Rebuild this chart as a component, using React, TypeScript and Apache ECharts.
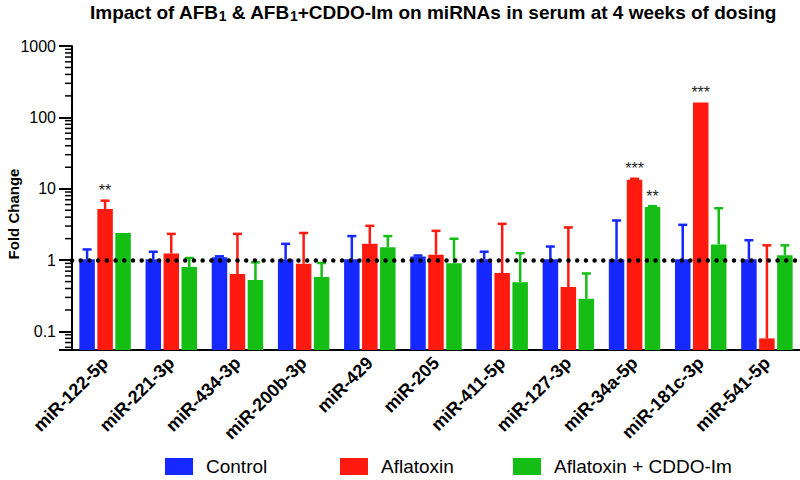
import React, { useEffect, useRef } from 'react';
import * as echarts from 'echarts';

const categories = [
  'miR-122-5p', 'miR-221-3p', 'miR-434-3p', 'miR-200b-3p', 'miR-429', 'miR-205',
  'miR-411-5p', 'miR-127-3p', 'miR-34a-5p', 'miR-181c-3p', 'miR-541-5p',
];
const seriesNames = ['Control', 'Aflatoxin', 'Aflatoxin + CDDO-Im'];

// mean fold change and upper end of the error bar (null = no visible bar)
const controlMean = [1.03, 1.03, 1.1, 1.03, 1.03, 1.12, 1.03, 1.03, 1.03, 1.03, 1.03];
const controlErr = [1.41, 1.31, 1.13, 1.69, 2.17, 1.16, 1.31, 1.55, 3.59, 3.12, 1.9];
const aflatoxinMean = [5.2, 1.24, 0.64, 0.89, 1.69, 1.19, 0.66, 0.42, 13.4, 162, 0.08];
const aflatoxinErr = [6.8, 2.33, 2.33, 2.4, 3.02, 2.57, 3.22, 2.87, 13.8, null, 1.61];
const cddoMean = [2.4, 0.8, 0.525, 0.58, 1.52, 0.9, 0.49, 0.287, 5.56, 1.66, 1.17];
const cddoErr = [null, 1.07, 0.93, 0.91, 2.17, 1.99, 1.25, 0.65, 5.7, 5.33, 1.61];

const controlSig = ['', '', '', '', '', '', '', '', '', '', ''];
const aflatoxinSig = ['**', '', '', '', '', '', '', '', '***', '***', ''];
const cddoSig = ['', '', '', '', '', '', '', '', '**', '', ''];

const yMin = 0.055;
const yMax = 1000;
const referenceLine = 1;
const yMinorTicks = [
  0.06, 0.07, 0.08, 0.09,
  0.2, 0.3, 0.4, 0.5, 0.6, 0.7, 0.8, 0.9,
  2, 3, 4, 5, 6, 7, 8, 9,
  20, 30, 40, 50, 60, 70, 80, 90,
  200, 300, 400, 500, 600, 700, 800, 900,
];

const colors = ['#1428ff', '#ff1a0f', '#14be14'];
const FONT = '"Liberation Sans", Arial, sans-serif';

const means = [controlMean, aflatoxinMean, cddoMean];
const errs = [controlErr, aflatoxinErr, cddoErr];
const sigs = [controlSig, aflatoxinSig, cddoSig];

const BAR_W = 15.5;
const BAR_STEP = 18;

export default function App() {
  const ref = useRef<HTMLDivElement>(null);

  useEffect(() => {
    if (!ref.current) return;
    const chart = echarts.init(ref.current, undefined, { renderer: 'svg' });

    const barSeries = seriesNames.map((name, s) => ({
      type: 'bar',
      name,
      data: means[s],
      barWidth: BAR_W,
      barGap: '16%',
      itemStyle: { color: colors[s] },
      z: 2,
    }));

    const errSeries = seriesNames.map((name, s) => ({
      type: 'custom',
      name: name + ' error',
      silent: true,
      clip: false,
      z: 4,
      data: categories.map((c, i) => [i, means[s][i]]),
      renderItem: (params: any, api: any) => {
        const i = params.dataIndex;
        const base = api.coord([i, means[s][i]]);
        const x = base[0] + (s - 1) * BAR_STEP;
        const children: any[] = [];
        let topY = base[1];
        const e = errs[s][i];
        if (e != null) {
          const t = api.coord([i, e]);
          topY = t[1];
          children.push({
            type: 'line',
            shape: { x1: x, y1: base[1], x2: x, y2: t[1] },
            style: { stroke: colors[s], lineWidth: 2.5 },
          });
          children.push({
            type: 'line',
            shape: { x1: x - 4.5, y1: t[1], x2: x + 4.5, y2: t[1] },
            style: { stroke: colors[s], lineWidth: 2.5 },
          });
        }
        if (sigs[s][i]) {
          children.push({
            type: 'text',
            x,
            y: topY - 10,
            style: {
              text: sigs[s][i],
              fill: '#222',
              font: '16px ' + FONT,
              align: 'center',
              verticalAlign: 'middle',
            },
          });
        }
        return { type: 'group', children };
      },
    }));

    const minorTickSeries = {
      type: 'custom',
      name: 'minor ticks',
      silent: true,
      clip: false,
      z: 5,
      data: yMinorTicks.map((v) => [0, v]),
      renderItem: (params: any, api: any) => {
        const p = api.coord([0, api.value(1)]);
        const bw = api.size([1, 0], [0, 1])[0];
        const x0 = p[0] - bw / 2;
        return {
          type: 'line',
          shape: { x1: x0 - 7, y1: p[1], x2: x0, y2: p[1] },
          style: { stroke: '#000', lineWidth: 1.5 },
        };
      },
    };

    const lineSeries = {
      type: 'custom',
      name: 'reference',
      silent: true,
      z: 6,
      data: [],
      renderItem: () => ({ type: 'group', children: [] }),
      markLine: {
        silent: true,
        symbol: 'none',
        z: 6,
        label: { show: false },
        lineStyle: { color: '#000', width: 4.5, type: [0.01, 8.7], cap: 'round' },
        data: [{ yAxis: referenceLine }],
      },
    };

    const legendLefts = [165, 340, 513];
    const legends = seriesNames.map((name, s) => ({
      data: [name],
      left: legendLefts[s],
      top: 457,
      padding: 0,
      itemWidth: 28,
      itemHeight: 17,
      icon: 'rect',
      selectedMode: false,
      textStyle: { fontSize: 19, color: '#000', fontFamily: FONT, padding: [0, 0, 0, 8] },
    }));

    chart.setOption({
      animation: false,
      backgroundColor: '#fff',
      color: colors,
      title: {
        left: 90,
        top: 1,
        padding: 0,
        text: '{b|Impact of AFB}{s|1}{b| & AFB}{s|1}{b|+CDDO-Im on miRNAs in serum at 4 weeks of dosing}',
        textStyle: {
          rich: {
            b: { fontSize: 19, fontWeight: 'bold', fontFamily: FONT, color: '#000', lineHeight: 22 },
            s: { fontSize: 14, fontWeight: 'bold', fontFamily: FONT, color: '#000', lineHeight: 8, verticalAlign: 'bottom' },
          },
        },
      },
      legend: legends,
      grid: { left: 72, right: 0, top: 46, bottom: 130, containLabel: false },
      xAxis: {
        type: 'category',
        data: categories,
        axisLine: { lineStyle: { color: '#000', width: 2 } },
        axisTick: { alignWithLabel: true, length: 7, lineStyle: { color: '#000', width: 2 } },
        axisLabel: {
          interval: 0,
          rotate: 45,
          margin: 10,
          fontSize: 18,
          fontWeight: 'bold',
          fontFamily: FONT,
          color: '#000',
        },
      },
      yAxis: {
        type: 'log',
        logBase: 10,
        min: yMin,
        max: yMax,
        startValue: yMin,
        axisLine: { show: true, lineStyle: { color: '#000', width: 2 } },
        axisTick: { show: true, length: 13, lineStyle: { color: '#000', width: 2 } },
        splitLine: { show: false },
        axisLabel: {
          fontSize: 16,
          fontFamily: FONT,
          color: '#000',
          margin: 16,
          formatter: (v: number) => {
            const l = Math.log10(v);
            if (Math.abs(l - Math.round(l)) > 1e-6) return '';
            const r = Math.pow(10, Math.round(l));
            return r >= 1 ? String(Math.round(r)) : String(+r.toPrecision(1));
          },
        },
      },
      graphic: [
        {
          type: 'text',
          x: 13,
          y: 214,
          rotation: Math.PI / 2,
          style: {
            text: 'Fold Change',
            font: 'bold 15px ' + FONT,
            fill: '#000',
            align: 'center',
            verticalAlign: 'middle',
          },
        },
      ],
      series: [...barSeries, ...errSeries, minorTickSeries, lineSeries],
    });

    return () => chart.dispose();
  }, []);

  return (
    <div
      ref={ref}
      style={{ position: 'fixed', left: 0, top: 0, width: 800, height: 480, background: '#fff' }}
    />
  );
}
